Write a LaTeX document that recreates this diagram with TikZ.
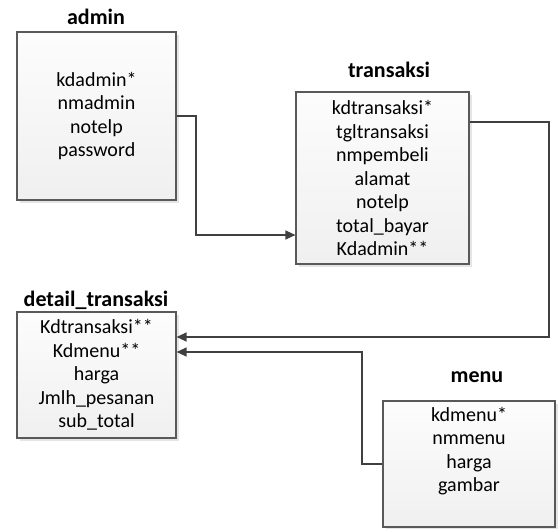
\documentclass[tikz,border=0pt]{standalone}
\usepackage{fontspec}
\setmainfont{Carlito}
\usetikzlibrary{arrows.meta,shadows,positioning}

\tikzset{
    table/.style={draw=black!65, line width=1.2pt, top color=black!1, bottom color=black!6,
        drop shadow={shadow xshift=3pt, shadow yshift=-3pt, fill=black!10, opacity=1},
        align=center, font=\fontsize{20}{23.5}\selectfont, inner sep=0pt},
    title/.style={font=\fontsize{22}{26}\selectfont\bfseries},
    link/.style={draw=black!75, line width=1.3pt, -{Triangle[length=10pt,width=9pt]}}
}

\begin{document}
\begin{tikzpicture}[x=1pt,y=-1pt]
        \useasboundingbox (0,0) rectangle (559,529);
        % Draw tables
        \node[table, minimum width=159pt, minimum height=168pt] (admin) at (96.5,116)
            {kdadmin*\\ nmadmin\\ notelp\\ password};
        \node[table, minimum width=173pt, minimum height=172pt] (transaksi) at (382.5,178)
            {kdtransaksi*\\ tgltransaksi\\ nmpembeli\\ alamat\\ notelp\\ total\_bayar\\ Kdadmin**};
        \node[table, minimum width=159pt, minimum height=126pt] (detail) at (96.5,375)
            {Kdtransaksi**\\ Kdmenu**\\ harga\\ Jmlh\_pesanan\\ sub\_total};
        \node[table, minimum width=172pt, minimum height=126pt] (menu) at (469,464)
            {kdmenu*\\ nmmenu\\ harga\\ gambar\\[6pt]\mbox{}};
        % Draw titles
        \node[title] (admintitle) at (96,17) {admin};
        \node[title] (transaksititle) at (389,70) {transaksi};
        \node[title] (detailtitle) at (96,300) {detail\_transaksi};
        \node[title] (menutitle) at (477,377) {menu};
        % Draw relations
        \coordinate (bend1) at (196,235);
        \coordinate (bend2) at (549,337);
        \coordinate (bend3) at (362,352);
        \draw[link] (admin.east) -| (bend1) -- (bend1 -| transaksi.west);
        \draw[link] ([yshift=56pt]transaksi.east) -| (bend2) -- (bend2 -| detail.east);
        \draw[link] (menu.west) -| (bend3) -- (bend3 -| detail.east);
\end{tikzpicture}
\end{document}
